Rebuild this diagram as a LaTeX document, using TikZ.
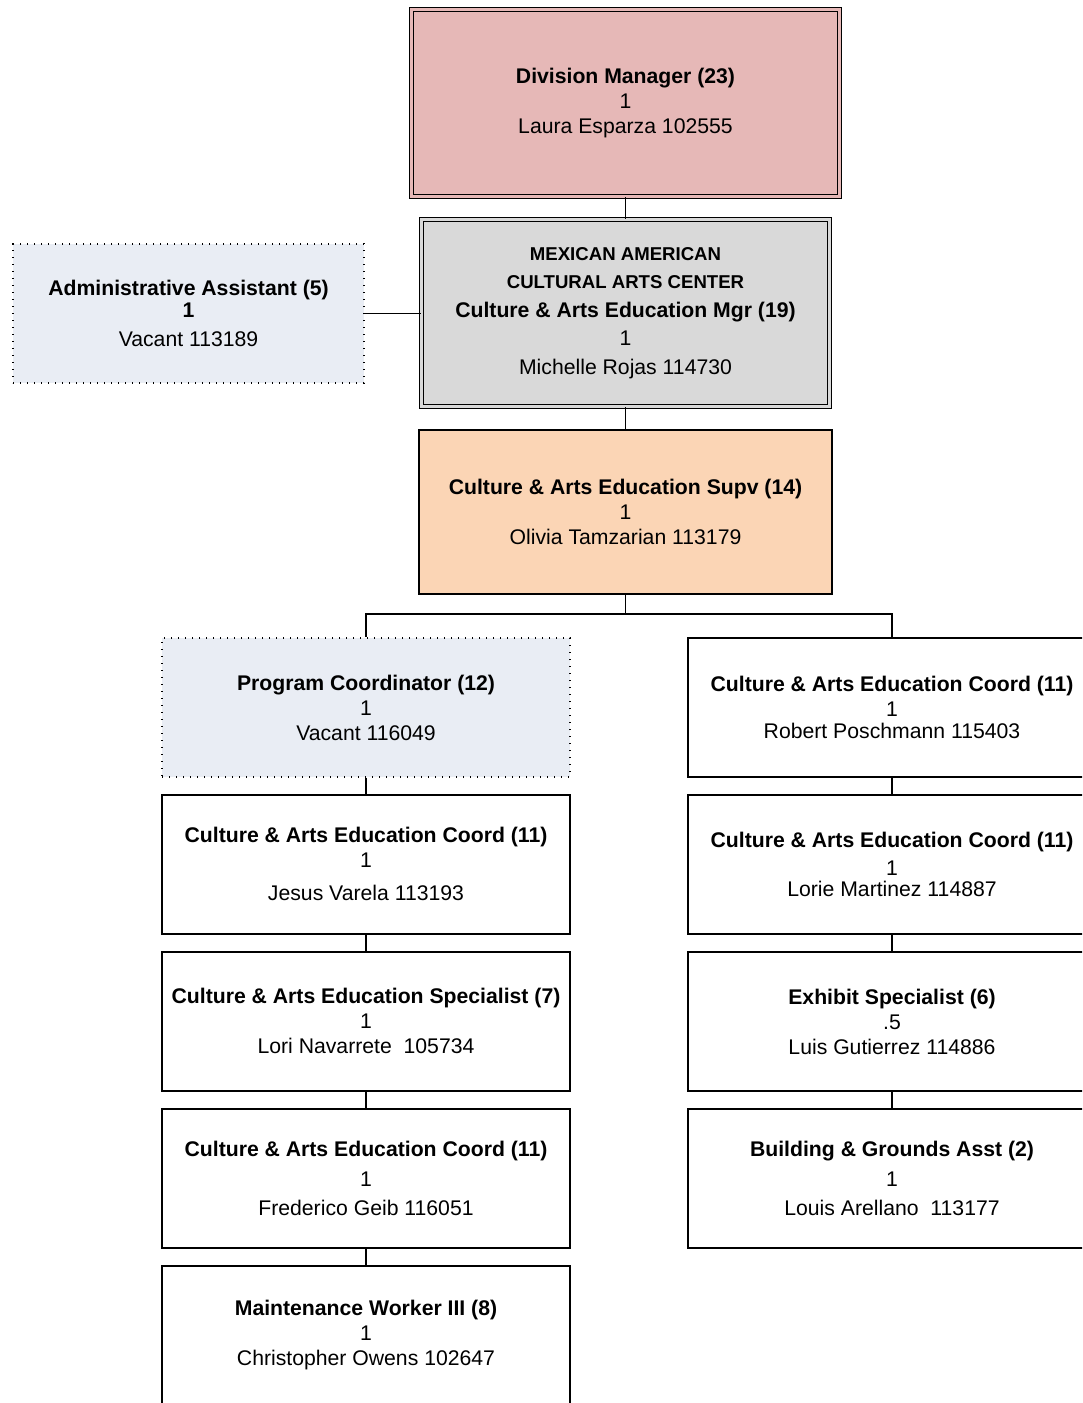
\documentclass[tikz,border=0pt]{standalone}
\usepackage{fontspec}
\setmainfont{Liberation Sans}
\usetikzlibrary{positioning}

\definecolor{divfill}{HTML}{E6B8B7}
\definecolor{mgrfill}{HTML}{D9D9D9}
\definecolor{supvfill}{HTML}{FBD5B5}
\definecolor{vacfill}{HTML}{E9EDF4}

\begin{document}
\begin{tikzpicture}[
    x=1pt, y=-1pt,
    node distance=16pt,
    post/.style={draw, line width=2pt, align=center, inner sep=0pt,
      minimum width=408pt, minimum height=139pt,
      font=\fontsize{21.2}{25}\selectfont},
    vacant/.style={post, line width=1.2pt, dash pattern=on 1.2pt off 5.8pt, fill=vacfill},
    head/.style={post, line width=1.6pt, double distance=2.6pt, minimum height=187pt},
    link/.style={line width=1.6pt}
  ]
  \useasboundingbox (0,0) rectangle (1082,1403);
  \clip (0,0) rectangle (1082,1403);

  % top of the chart
  \node[head, fill=divfill, double=divfill, minimum width=428pt] (div) at (625.5,103)
    {\textbf{Division Manager (23)}\\1\\Laura Esparza 102555};
  \node[head, fill=mgrfill, double=mgrfill, font=\fontsize{21.2}{28.5}\selectfont] (mgr) at (625.5,313)
    {{\fontsize{18.6}{28.5}\selectfont\textbf{MEXICAN AMERICAN}}\\
     {\fontsize{18.6}{28.5}\selectfont\textbf{CULTURAL ARTS CENTER}}\\
     \textbf{Culture \& Arts Education Mgr (19)}\\1\\Michelle Rojas 114730};
  \node[vacant, minimum width=351pt] (adm) at (188.5,313.5)
    {\textbf{Administrative Assistant (5)}\\[-3pt]\textbf{1}\\[4pt]Vacant 113189};
  \node[post, fill=supvfill, minimum width=413pt, minimum height=164pt] (supv) at (625.5,512)
    {\textbf{Culture \& Arts Education Supv (14)}\\1\\Olivia Tamzarian 113179};

  % left column
  \node[vacant] (pc) at (366,707.5)
    {\textbf{Program Coordinator (12)}\\1\\Vacant 116049};
  \node[post, below=of pc] (lc1)
    {\textbf{Culture \& Arts Education Coord (11)}\\1\\[8pt]Jesus Varela 113193};
  \node[post, below=of lc1] (lc2)
    {\textbf{Culture \& Arts Education Specialist (7)}\\1\\Lori Navarrete\ \ 105734};
  \node[post, below=of lc2] (lc3)
    {\textbf{Culture \& Arts Education Coord (11)}\\[5pt]1\\[4pt]Frederico Geib 116051};
  \node[post, below=of lc3] (lc4)
    {\textbf{Maintenance Worker III (8)}\\1\\Christopher Owens 102647};

  % right column
  \node[post] (rc1) at (892,707.5)
    {\textbf{Culture \& Arts Education Coord (11)}\\1\\[-3pt]Robert Poschmann 115403};
  \node[post, below=of rc1] (rc2)
    {\textbf{Culture \& Arts Education Coord (11)}\\[3pt]1\\[-4pt]Lorie Martinez 114887};
  \node[post, below=of rc2] (rc3)
    {\textbf{Exhibit Specialist (6)}\\.5\\Luis Gutierrez 114886};
  \node[post, below=of rc3] (rc4)
    {\textbf{Building \& Grounds Asst (2)}\\[5pt]1\\[4pt]Louis Arellano\ \ 113177};

  % connectors
  \coordinate (fork) at (625.5,614);
  \draw[link] (div.south) -- (mgr.north);
  \draw[link] (adm.east) -- (adm.east -| mgr.west);
  \draw[link] (mgr.south) -- (supv.north);
  \draw[link] (supv.south) -- (fork) -| (pc.north);
  \draw[link] (fork) -| (rc1.north);
  \draw[link] (pc) -- (lc1);
  \draw[link] (lc1) -- (lc2);
  \draw[link] (lc2) -- (lc3);
  \draw[link] (lc3) -- (lc4);
  \draw[link] (rc1) -- (rc2);
  \draw[link] (rc2) -- (rc3);
  \draw[link] (rc3) -- (rc4);
\end{tikzpicture}
\end{document}
